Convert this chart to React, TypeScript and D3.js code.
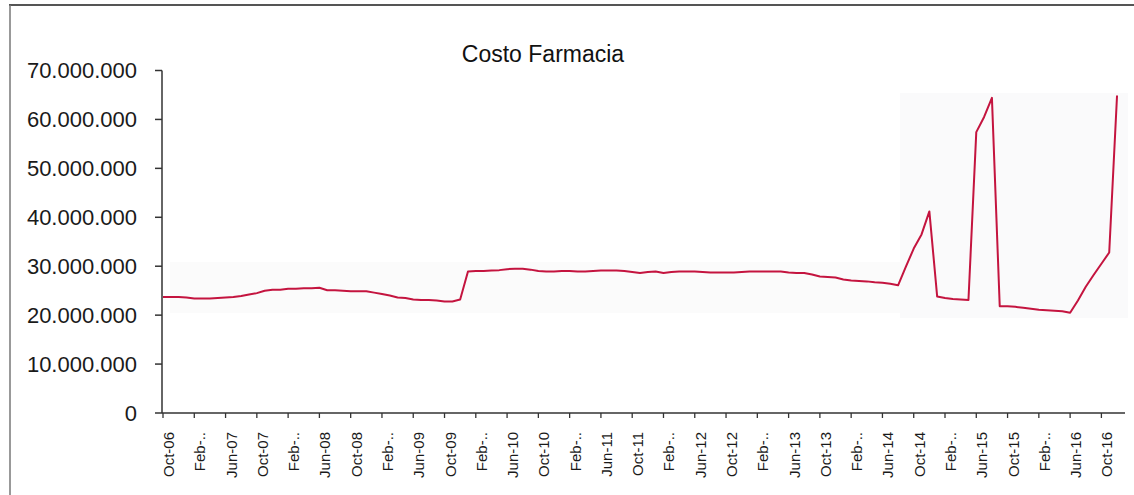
import React from "react";
import * as d3 from "d3";

// Monthly pharmacy cost, Oct-2006 .. Dec-2016, in millions
const START_MONTH = new Date(2006, 9, 1);
const END_MONTH = new Date(2016, 11, 1);

const cost2006 = [23.7, 23.7, 23.7]; // Oct–Dec
const cost2007 = [23.6, 23.4, 23.4, 23.4, 23.5, 23.6, 23.7, 23.9, 24.2, 24.5, 25.0, 25.2];
const cost2008 = [25.2, 25.4, 25.4, 25.5, 25.5, 25.6, 25.1, 25.1, 25.0, 24.9, 24.9, 24.9];
const cost2009 = [24.6, 24.3, 24.0, 23.6, 23.5, 23.2, 23.1, 23.1, 23.0, 22.8, 22.8, 23.2];
const cost2010 = [28.9, 29.0, 29.0, 29.1, 29.2, 29.4, 29.5, 29.5, 29.3, 29.0, 28.9, 28.9];
const cost2011 = [29.0, 29.0, 28.9, 28.9, 29.0, 29.1, 29.1, 29.1, 29.0, 28.8, 28.6, 28.8];
const cost2012 = [28.9, 28.6, 28.8, 28.9, 28.9, 28.9, 28.8, 28.7, 28.7, 28.7, 28.7, 28.8];
const cost2013 = [28.9, 28.9, 28.9, 28.9, 28.9, 28.7, 28.6, 28.6, 28.3, 27.9, 27.8, 27.7];
const cost2014 = [27.3, 27.1, 27.0, 26.9, 26.7, 26.6, 26.4, 26.1, 29.9, 33.6, 36.5, 41.2];
const cost2015 = [23.8, 23.5, 23.3, 23.2, 23.1, 57.4, 60.5, 64.4, 21.8, 21.8, 21.7, 21.5];
const cost2016 = [21.3, 21.1, 21.0, 20.9, 20.8, 20.5, 23.0, 25.8, 28.2, 30.5, 32.8, 64.9];

const costMillions = [
  ...cost2006, ...cost2007, ...cost2008, ...cost2009, ...cost2010, ...cost2011,
  ...cost2012, ...cost2013, ...cost2014, ...cost2015, ...cost2016,
];

const months = d3.timeMonth.range(START_MONTH, d3.timeMonth.offset(END_MONTH, 1));

// Axis labels every fourth month; the February ones are clipped in the source workbook
const xTickLabels = [
  "Oct-06", "Feb-..", "Jun-07", "Oct-07", "Feb-..", "Jun-08", "Oct-08", "Feb-..",
  "Jun-09", "Oct-09", "Feb-..", "Jun-10", "Oct-10", "Feb-..", "Jun-11", "Oct-11",
  "Feb-..", "Jun-12", "Oct-12", "Feb-..", "Jun-13", "Oct-13", "Feb-..", "Jun-14",
  "Oct-14", "Feb-..", "Jun-15", "Oct-15", "Feb-..", "Jun-16", "Oct-16",
];
const X_TICK_EVERY = 4;

const yTicks = [0, 10e6, 20e6, 30e6, 40e6, 50e6, 60e6, 70e6];

const TITLE = "Costo Farmacia";

const W = 1134;
const H = 495;
const FONT = "'Liberation Sans', Arial, sans-serif";

const esLocale = d3.formatLocale({ decimal: ",", thousands: ".", grouping: [3], currency: ["", ""] });
const fmt = esLocale.format(",d");

export default function App() {
  const data = months.map((m, i) => ({ month: m, value: costMillions[i] * 1e6 }));

  const x = d3
    .scalePoint<number>()
    .domain(d3.range(data.length))
    .range([163, 163 + 7.82 * (data.length - 1)]);
  const y = d3.scaleLinear().domain([0, 70e6]).range([413, 70.5]);

  const line = d3
    .line<{ month: Date; value: number }>()
    .x((_, i) => x(i) as number)
    .y((d) => y(d.value));

  const axisEnd = (x(data.length - 1) as number) + 8;
  const tickIdx = xTickLabels.map((_, k) => k * X_TICK_EVERY);

  return (
    <div style={{ position: "fixed", left: 0, top: 0 }}>
      <svg width={W} height={H} style={{ display: "block", background: "#fff" }}>
        {/* faint scan tint behind the plot */}
        <rect x={170} y={262} width={730} height={51} fill="#fbfbfb" />
        <rect x={900} y={93} width={228} height={225} fill="#fafafb" />

        {/* outer frame */}
        <line x1={9} x2={W} y1={5} y2={5} stroke="#555" strokeWidth={2} />
        <line x1={10} x2={10} y1={5} y2={H} stroke="#777" strokeWidth={1.5} />

        <text
          x={543}
          y={62}
          textAnchor="middle"
          fontFamily={FONT}
          fontSize={23}
          fill="#111"
        >
          {TITLE}
        </text>

        {/* y axis */}
        <line x1={162} x2={162} y1={y(70e6)} y2={y(0)} stroke="#333" strokeWidth={1.5} />
        {yTicks.map((t) => (
          <g key={t}>
            <line x1={155} x2={162} y1={y(t)} y2={y(t)} stroke="#333" strokeWidth={1.5} />
            <text
              x={137}
              y={y(t)}
              dy="0.36em"
              textAnchor="end"
              fontFamily={FONT}
              fontSize={22}
              fill="#1a1a1a"
            >
              {fmt(t)}
            </text>
          </g>
        ))}

        {/* x axis */}
        <line x1={162} x2={axisEnd} y1={y(0)} y2={y(0)} stroke="#333" strokeWidth={1.5} />
        {tickIdx.map((i, k) => {
          const px = x(i) as number;
          return (
            <g key={i}>
              <line x1={px} x2={px} y1={y(0)} y2={y(0) + 5} stroke="#333" strokeWidth={1.3} />
              <text
                transform={`translate(${px + 11},432) rotate(-90)`}
                textAnchor="end"
                fontFamily={FONT}
                fontSize={15}
                fill="#1a1a1a"
              >
                {xTickLabels[k]}
              </text>
            </g>
          );
        })}

        <path d={line(data) ?? ""} fill="none" stroke="#c4143f" strokeWidth={2} strokeLinejoin="round" />
      </svg>
    </div>
  );
}
